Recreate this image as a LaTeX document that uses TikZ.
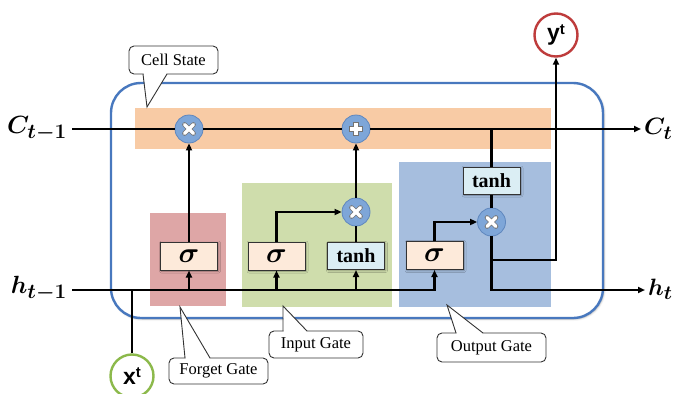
\documentclass[tikz,border=0pt]{standalone}
\usepackage{fontspec}
\usepackage{bm}
\setmainfont{Liberation Serif}
\setsansfont{Liberation Sans}
\usetikzlibrary{arrows.meta,shadows.blur}

\definecolor{cellband}{RGB}{248,203,165}
\definecolor{forgetbg}{RGB}{222,166,166}
\definecolor{inputbg}{RGB}{207,221,172}
\definecolor{outputbg}{RGB}{166,190,222}
\definecolor{sigfill}{RGB}{253,234,218}
\definecolor{tanhfill}{RGB}{219,238,244}
\definecolor{opfill}{RGB}{126,166,216}
\definecolor{opdraw}{RGB}{95,135,190}
\definecolor{framecol}{RGB}{72,120,190}
\definecolor{xgreen}{RGB}{140,185,75}
\definecolor{yred}{RGB}{190,60,60}

% bold math set at the largest design size, then scaled
\newcommand\bigmath[2]{\scalebox{#1}{$\bm{#2}$}}

% white cross / plus glyphs inside the pointwise operator circles
\newcommand\opTimes[1]{%
  \draw[line width=4.8pt, black!55, line cap=round]
    ([shift={(-4.4,-4.4)}]#1.center) -- ([shift={(4.4,4.4)}]#1.center)
    ([shift={(-4.4,4.4)}]#1.center) -- ([shift={(4.4,-4.4)}]#1.center);
  \draw[line width=3.2pt, white, line cap=round]
    ([shift={(-4.4,-4.4)}]#1.center) -- ([shift={(4.4,4.4)}]#1.center)
    ([shift={(-4.4,4.4)}]#1.center) -- ([shift={(4.4,-4.4)}]#1.center);}
\newcommand\opPlus[1]{%
  \draw[line width=5.4pt, black!55]
    ([shift={(-6.8,0)}]#1.center) -- ([shift={(6.8,0)}]#1.center)
    ([shift={(0,-6.8)}]#1.center) -- ([shift={(0,6.8)}]#1.center);
  \draw[line width=3.6pt, white]
    ([shift={(-6,0)}]#1.center) -- ([shift={(6,0)}]#1.center)
    ([shift={(0,-6)}]#1.center) -- ([shift={(0,6)}]#1.center);}

\begin{document}
\begin{tikzpicture}[x=1pt,y=-1pt,
  softshadow/.style={blur shadow={shadow xshift=1pt,shadow yshift=-1pt,
      shadow blur radius=2pt,shadow opacity=35}},
  gatebg/.style={rectangle, inner sep=0pt},
  frame/.style={rectangle, rounded corners=30pt, draw=framecol, fill=white,
      line width=2.4pt, inner sep=0pt, softshadow},
  sigbox/.style={rectangle, draw=black!80, line width=1pt, fill=sigfill,
      minimum width=57pt, minimum height=28pt, inner sep=0pt, softshadow,
      font=\fontsize{24.88}{26}\selectfont},
  tanhbox/.style={rectangle, draw=black!80, line width=1pt, fill=tanhfill,
      minimum width=57pt, minimum height=27pt, inner sep=0pt, softshadow,
      font=\fontsize{20}{20}\selectfont\bfseries},
  op/.style={circle, fill=opfill, draw=opdraw, line width=0.8pt,
      minimum size=28pt, inner sep=0pt},
  io/.style={circle, fill=white, line width=2.4pt, minimum size=43pt, inner sep=0pt,
      font=\fontsize{23}{23}\selectfont\sffamily\bfseries},
  callout/.style={rectangle, rounded corners=5pt, draw=black!80, line width=0.9pt,
      fill=white, inner sep=0pt, font=\fontsize{16.5}{16.5}\selectfont},
  wire/.style={line width=2.2pt, black},
  arr/.style={wire, -{Triangle[length=7pt,width=6pt]}},
  mathlbl/.style={inner sep=0pt, font=\fontsize{24.88}{26}\selectfont},
]
\useasboundingbox (0,0) rectangle (673,394);

% cell boundary
\node[frame, minimum width=492pt, minimum height=235pt] (cell) at (357,200.5) {};

% gate backgrounds
\node[gatebg, fill=cellband, minimum width=416pt, minimum height=41pt] (band) at (343,128.5) {};
\node[gatebg, fill=forgetbg, minimum width=76pt, minimum height=93pt] (fgate) at (188,259.5) {};
\node[gatebg, fill=inputbg, minimum width=150pt, minimum height=124pt] (igate) at (317,245) {};
\node[gatebg, fill=outputbg, minimum width=152pt, minimum height=145pt] (ogate) at (475,234.5) {};

% layer boxes
\node[sigbox] (sigf) at (189,256) {\bigmath{1.15}{\sigma}};
\node[sigbox] (sigi) at (276.5,256) {\bigmath{1.15}{\sigma}};
\node[tanhbox] (tanhi) at (356,256) {tanh};
\node[sigbox] (sigo) at (434.5,255.5) {\bigmath{1.15}{\sigma}};
\node[tanhbox] (tanho) at (491.5,180.5) {tanh};

% pointwise operators
\node[op] (mulf) at (189,129) {};
\node[op] (addc) at (356,129) {};
\node[op] (muli) at (356,212) {};
\node[op] (mulo) at (491.5,222) {};

% inputs / outputs
\node[io, draw=xgreen] (xt) at (132,376) {x\raisebox{0.55ex}{\fontsize{15}{15}\selectfont t}};
\node[io, draw=yred] (yt) at (556,35) {y\raisebox{0.55ex}{\fontsize{15}{15}\selectfont t}};

\coordinate (cin) at (72,129);
\coordinate (cout) at (641,129);
\coordinate (hin) at (72,290);
\coordinate (hout) at (645,290);
\coordinate (ctap) at (491.5,129);
\coordinate (ybr) at (491.5,260);

\node[mathlbl, anchor=east] (clab) at (67,129) {\bigmath{1.0}{C_{t-1}}};
\node[mathlbl, anchor=west] (ctlab) at (644,129) {\bigmath{0.95}{C_{t}}};
\node[mathlbl, anchor=east] (hlab) at (67,289) {\bigmath{1.0}{h_{t-1}}};
\node[mathlbl, anchor=west] (htlab) at (648,289) {\bigmath{0.95}{h_{t}}};

% cell state line
\draw[wire] (cin) -- (mulf.west);
\draw[wire] (mulf.east) -- (addc.west);
\draw[arr] (addc.east) -- (cout);
\draw[wire] (ctap) -- (tanho.north);

% hidden state and input
\draw[arr] (hin) -| (sigo.south);
\draw[wire] (xt.north) -- (xt.north |- hin);
\draw[arr] (sigf.south |- hin) -- (sigf.south);
\draw[arr] (sigi.south |- hin) -- (sigi.south);
\draw[arr] (tanhi.south |- hin) -- (tanhi.south);

% forget gate
\draw[arr] (sigf.north) -- (mulf.south);
% input gate
\draw[arr] (sigi.north) |- (muli.west);
\draw[wire] (tanhi.north) -- (muli.south);
\draw[arr] (muli.north) -- (addc.south);
% output gate
\draw[wire] (tanho.south) -- (mulo.north);
\draw[arr] (sigo.north) |- (mulo.west);
\draw[arr] (mulo.south) |- (hout);
\draw[arr] (ybr) -| (yt.south);

% operator glyphs
\opTimes{mulf}
\opPlus{addc}
\opTimes{muli}
\opTimes{mulo}

% callouts
\node[callout, minimum width=89pt, minimum height=28pt] (cs) at (173.5,60) {Cell State};
\coordinate (cstip) at (147,107);
\fill[white] (143.5,72) -- (143.5,75) -- (cstip) -- (166.5,75) -- (166.5,72) -- cycle;
\draw[black!80, line width=0.9pt] (143,74) -- (cstip) -- (167,74);

\node[callout, minimum width=99pt, minimum height=26pt] (fg) at (218.5,371) {Forget Gate};
\coordinate (fgtip) at (180,307);
\fill[white] (185.5,360) -- (185.5,357.5) -- (fgtip) -- (209.5,357.5) -- (209.5,360) -- cycle;
\draw[black!80, line width=0.9pt] (185,358) -- (fgtip) -- (210,358);

\node[callout, minimum width=94pt, minimum height=27pt] (ig) at (316,344.5) {Input Gate};
\coordinate (igtip) at (283,306);
\fill[white] (283.5,333) -- (283.5,330.5) -- (igtip) -- (306.5,330.5) -- (306.5,333) -- cycle;
\draw[black!80, line width=0.9pt] (283,331) -- (igtip) -- (307,331);

\node[callout, minimum width=109pt, minimum height=29pt] (og) at (491.5,347.5) {Output Gate};
\coordinate (ogtip) at (447,305);
\fill[white] (456.5,335) -- (456.5,332.5) -- (ogtip) -- (482.5,332.5) -- (482.5,335) -- cycle;
\draw[black!80, line width=0.9pt] (456,333) -- (ogtip) -- (483,333);
\end{tikzpicture}
\end{document}
